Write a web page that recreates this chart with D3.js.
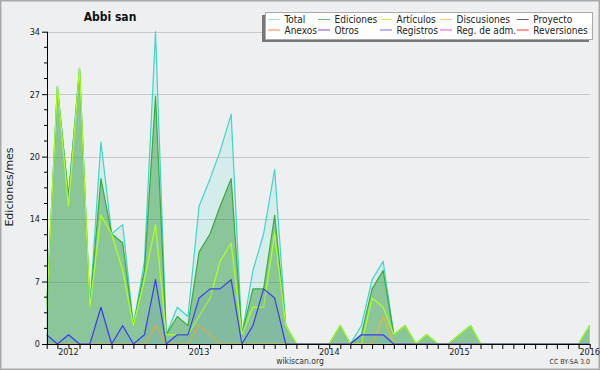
<!DOCTYPE html>
<html><head><meta charset="utf-8">
<script src="https://cdn.jsdelivr.net/npm/d3@7"></script>
<style>
html,body{margin:0;padding:0;background:#eeeff1;}
svg{display:block;}
text{font-family:"DejaVu Sans Condensed","DejaVu Sans",sans-serif;font-stretch:condensed;}
</style></head>
<body><svg id="c" width="600" height="370"></svg>
<script>
// ---- data (monthly, Nov 2011 .. Jan 2016) ----
const startYear = 2011, startMonth = 10; // November 2011
const total      = [4,28,16,30,4,22,12,13,2,9,34,1,4,3,15,18,21,25,1,8,12,19,2,0,0,0,0,2,0,2,7,9,1,2,0,1,0,0,1,2,0,0,0,0,0,0,0,0,0,0,2];
const ediciones  = [4,28,16,30,4,18,12,11,2,8,27,1,3,2,10,12,15,18,1,6,6,14,2,0,0,0,0,2,0,1,6,8,1,2,0,1,0,0,1,2,0,0,0,0,0,0,0,0,0,0,2];
const articulos  = [4,28,15,30,4,14,12,8,2,7,13,1,1,1,3,5,9,11,1,4,4,12,2,0,0,0,0,2,0,0,5,4,1,2,0,1,0,0,1,2,0,0,0,0,0,0,0,0,0,0,2];
const discusiones= [0,0,0,0,0,0,0,0,0,0,2,0,0,0,2,1,0,0,0,0,0,0,0,0,0,0,0,0,0,0,0,3,0,0,0,0,0,0,0,0,0,0,0,0,0,0,0,0,0,0,0];
const registros  = [1,0,1,0,0,4,0,2,0,1,7,0,1,1,5,6,6,7,0,2,6,5,0,0,0,0,0,0,0,1,1,1,0,0,0,0,0,0,0,0,0,0,0,0,0,0,0,0,0,0,0];
const yMax = 34;
const yearTicks = [2012, 2013, 2014, 2015, 2016];
const legendNames = ["Total","Ediciones","Artículos","Discusiones","Proyecto","Anexos","Otros","Registros","Reg. de adm.","Reversiones"];
const legendColors = ["#9fe6dc","#66bb66","#c4f060","#ffd060","#666666","#ff8050","#8f40e0","#7070ff","#e050e0","#ff3030"];
const title = "Abbi san";
const yTitle = "Ediciones/mes";

const months = total.map((d,i) => new Date(startYear, startMonth + i, 1));

const svg = d3.select("#c");
const x = d3.scaleTime().domain([months[0], months[months.length-1]]).range([46.7, 589.7]);
const y = d3.scaleLinear().domain([0, yMax]).range([344, 31.7]);

// frame
svg.append("rect").attr("x",0.75).attr("y",0.75).attr("width",598.5).attr("height",368.5)
  .attr("fill","#eeeff1").attr("stroke","#a9a9a9").attr("stroke-width",1.5);

// grid
const major = d3.range(6).map(k => yMax*k/5);
svg.append("g").selectAll("line").data(major.slice(1)).join("line")
  .attr("x1",47).attr("x2",590).attr("y1",d=>Math.round(y(d))+0.5).attr("y2",d=>Math.round(y(d))+0.5)
  .attr("stroke","#c9c9c9").attr("stroke-width",1);

// series
const pts = arr => arr.map((v,i)=>[months[i], v]);
const area = d3.area().x(d=>x(d[0])).y0(y(0)).y1(d=>y(d[1]));
const line = d3.line().x(d=>x(d[0])).y(d=>y(d[1]));

function drawArea(arr, fill){ svg.append("path").attr("d", area(pts(arr))).attr("fill", fill).attr("stroke","none"); }
function drawLine(arr, col, w){ svg.append("path").attr("d", line(pts(arr))).attr("fill","none").attr("stroke", col).attr("stroke-width", w).attr("stroke-linejoin","round"); }

drawArea(total, "rgba(64,224,208,0.15)");
drawLine(total, "#3fd6c6", 1.2);
drawArea(ediciones, "rgba(0,128,0,0.35)");
drawLine(ediciones, "#3caa3c", 1.2);
drawLine(articulos, "#aaff22", 1.3);
drawLine(discusiones, "#e8b830", 1.1);
drawArea(registros, "rgba(40,40,255,0.07)");
drawLine(registros, "#3c3cf0", 1.2);

// y axis
const yAxis = d3.axisLeft(y).tickValues(major).tickSize(5).tickFormat(d=>Math.round(d));
const gy = svg.append("g").attr("transform","translate(47,0)").call(yAxis);
gy.select(".domain").attr("stroke","#000").attr("d","M0.5,31.7V344");
gy.selectAll(".tick text").attr("font-size",9).attr("fill","#222").attr("x",-7).attr("font-family",'"DejaVu Sans Condensed","DejaVu Sans",sans-serif');
gy.selectAll(".tick line").attr("stroke","#000");
const minor = d3.range(21).map(k => yMax*k/20).filter((d,i)=>i%4!==0);
svg.append("g").selectAll("line").data(minor).join("line")
  .attr("x1",44).attr("x2",47).attr("y1",d=>y(d)).attr("y2",d=>y(d)).attr("stroke","#000");

// x axis
const xAxis = d3.axisBottom(x).ticks(d3.timeMonth.every(1)).tickSize(5).tickFormat("");
const gx = svg.append("g").attr("transform","translate(0,344)").call(xAxis);
gx.select(".domain").attr("stroke","#000").attr("d","M46.7,0.5H590");
gx.selectAll(".tick line").attr("stroke","#000");
svg.append("g").selectAll("text").data(yearTicks).join("text")
  .attr("x",d=>x(new Date(d,0,1))).attr("y",355).attr("text-anchor","middle")
  .attr("font-size",9).attr("fill","#222").text(d=>d);

// titles
svg.append("text").attr("x",110).attr("y",21).attr("text-anchor","middle")
  .attr("font-size",12).attr("font-weight","bold").attr("fill","#111").text(title);
svg.append("text").attr("transform","translate(13,187) rotate(-90)").attr("text-anchor","middle")
  .attr("font-size",11).attr("fill","#222").style("font-family","'DejaVu Sans',sans-serif").style("font-stretch","normal").text(yTitle);
svg.append("text").attr("x",300).attr("y",364).attr("text-anchor","middle")
  .attr("font-size",8.5).attr("fill","#333").text("wikiscan.org");
svg.append("text").attr("x",590).attr("y",364).attr("text-anchor","end")
  .attr("font-size",7).attr("fill","#333").text("CC BY-SA 3.0");

// legend
const lg = svg.append("g");
lg.append("rect").attr("x",262).attr("y",15).attr("width",327).attr("height",27).attr("fill","#777");
lg.append("rect").attr("x",265.5).attr("y",12.5).attr("width",327).attr("height",27).attr("fill","#fff").attr("stroke","#aaa");
const colX = [268, 318, 380, 440, 516.7];
const rowY = [19.5, 30];
legendNames.forEach((n,i)=>{
  const c = i%5, r = Math.floor(i/5);
  lg.append("line").attr("x1",colX[c]).attr("x2",colX[c]+12).attr("y1",rowY[r]).attr("y2",rowY[r])
    .attr("stroke",legendColors[i]).attr("stroke-width",1);
  lg.append("text").attr("x",colX[c]+16.5).attr("y",rowY[r]+3.7).attr("font-size",10).attr("fill","#222").text(n);
});
</script></body></html>
